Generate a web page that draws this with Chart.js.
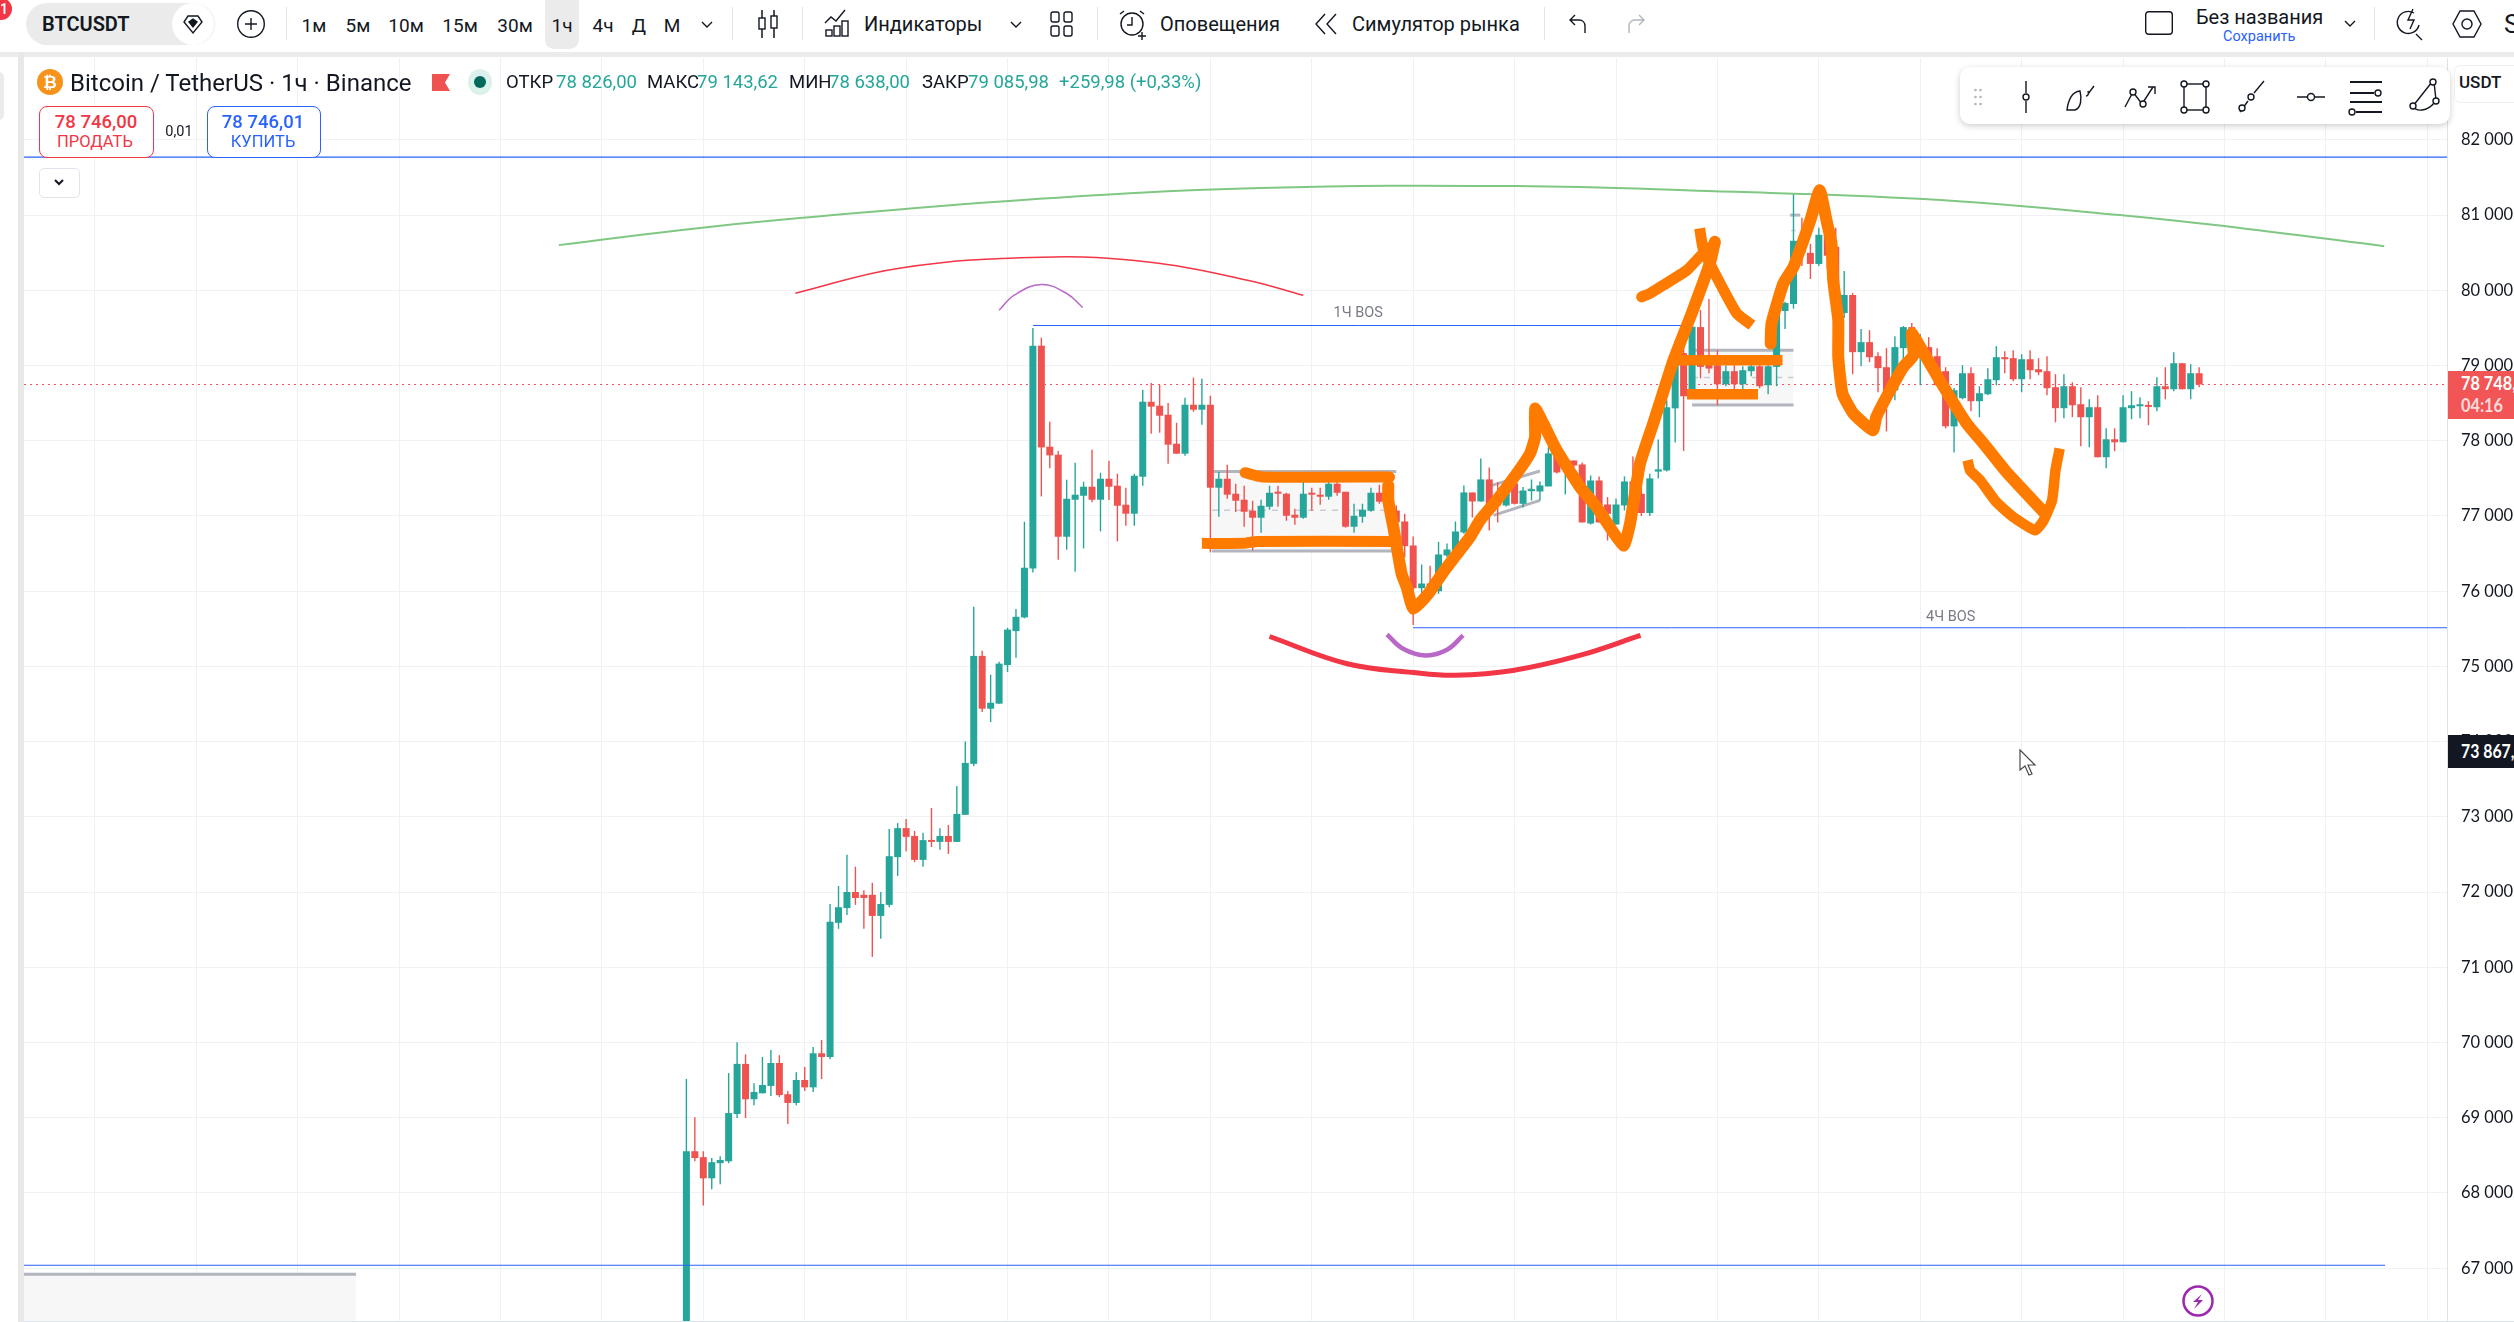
<!DOCTYPE html>
<html><head><meta charset="utf-8">
<script src="https://cdn.jsdelivr.net/npm/chart.js@4"></script>
<style>
html,body{margin:0;padding:0;background:#fff;overflow:hidden;width:2514px;height:1322px}
#wrap{position:relative;width:2514px;height:1322px;overflow:hidden;font-family:Roboto,sans-serif;color:#131722}
canvas{position:absolute;left:0;top:0}
.t{position:absolute;white-space:nowrap;line-height:1;transform:translateY(-50%)}
.c{transform:translate(-50%,-50%)}
.n{transform:translateY(-50%) scaleX(.88);transform-origin:left center}
.b{position:absolute}
svg.i{position:absolute;overflow:visible;fill:none;stroke:#131722;stroke-width:1.4}
.g{color:#26a69a}
</style></head><body>
<div id="wrap">
<canvas id="c" width="2514" height="1322"></canvas>
<!-- page frame -->
<div class="b" style="left:0;top:0;width:2514px;height:52px;background:#fff"></div>
<div class="b" style="left:0;top:52px;width:2514px;height:5px;background:#ebebeb"></div>
<div class="b" style="left:18px;top:52px;width:6px;height:1270px;background:#e8e8e8"></div>
<div class="b" style="left:24px;top:1321px;width:2490px;height:1px;background:#e0e3eb"></div>
<div class="b" style="left:-6px;top:72px;width:10px;height:48px;background:#ebebeb;border-radius:5px"></div>
<!-- toolbar -->
<div class="b" style="left:-10px;top:-2px;width:22px;height:22px;border-radius:50%;background:#f23645"></div>
<div class="t c" style="left:4px;top:9px;color:#fff;font-size:14px;font-weight:600">1</div>
<div class="b" style="left:26px;top:3px;width:189px;height:42px;border-radius:21px;background:#ebebeb"></div>
<div class="t" style="left:42px;top:24px;font-size:20px;font-weight:600">BTCUSDT</div>
<div class="b" style="left:172px;top:3px;width:42px;height:42px;border-radius:21px;background:#fff"></div>
<svg class="i" style="left:183px;top:14px" width="20" height="20" viewBox="0 0 20 20"><path d="M5 2h10l4 6-9 11L1 8z"/><path d="M10 5l4 3-4 5-4-5z" fill="#131722"/></svg>
<svg class="i" style="left:237px;top:10px" width="28" height="28" viewBox="0 0 28 28"><circle cx="14" cy="14" r="13.3"/><path d="M14 8v12M8 14h12"/></svg>
<div class="b" style="left:286px;top:7px;width:1px;height:33px;background:#e0e3eb"></div>
<div class="b" style="left:545px;top:0;width:34px;height:49px;border-radius:0 0 9px 9px;background:#ebebeb"></div>
<div class="t c" style="left:314px;top:25px;font-size:19px">1м</div>
<div class="t c" style="left:358px;top:25px;font-size:19px">5м</div>
<div class="t c" style="left:406px;top:25px;font-size:19px">10м</div>
<div class="t c" style="left:460px;top:25px;font-size:19px">15м</div>
<div class="t c" style="left:515px;top:25px;font-size:19px">30м</div>
<div class="t c" style="left:562px;top:25px;font-size:19px">1ч</div>
<div class="t c" style="left:603px;top:25px;font-size:19px">4ч</div>
<div class="t c" style="left:639px;top:25px;font-size:19px">Д</div>
<div class="t c" style="left:672px;top:25px;font-size:19px">М</div>
<svg class="i" style="left:701px;top:21px" width="12" height="8" viewBox="0 0 12 8"><path d="M1 1l5 5 5-5"/></svg>
<div class="b" style="left:732px;top:7px;width:1px;height:33px;background:#e0e3eb"></div>
<svg class="i" style="left:757px;top:9px" width="22" height="30" viewBox="0 0 22 30"><path d="M5 1v28M17 1v28" stroke-width="1.5"/><rect x="2" y="9" width="6" height="11" fill="#fff"/><rect x="14" y="7" width="6" height="12" fill="#fff"/></svg>
<div class="b" style="left:802px;top:7px;width:1px;height:33px;background:#e0e3eb"></div>
<svg class="i" style="left:824px;top:9px" width="28" height="28" viewBox="0 0 28 28"><path d="M1 14l6-6 5 4 9-11"/><rect x="2" y="21" width="6" height="6"/><rect x="10" y="17" width="6" height="10"/><rect x="18" y="12" width="6" height="15"/></svg>
<div class="t" style="left:864px;top:24px;font-size:20px">Индикаторы</div>
<svg class="i" style="left:1010px;top:21px" width="12" height="8" viewBox="0 0 12 8"><path d="M1 1l5 5 5-5"/></svg>
<svg class="i" style="left:1050px;top:11px" width="24" height="26" viewBox="0 0 24 26"><rect x="1" y="1" width="8" height="10" rx="2"/><rect x="14" y="1" width="8" height="10" rx="2"/><rect x="1" y="15" width="8" height="10" rx="2"/><rect x="14" y="15" width="8" height="10" rx="2"/></svg>
<div class="b" style="left:1097px;top:7px;width:1px;height:33px;background:#e0e3eb"></div>
<svg class="i" style="left:1118px;top:9px" width="30" height="32" viewBox="0 0 30 32"><circle cx="14" cy="15" r="11"/><path d="M14 8v8h-5M2 5l4-3M26 5l-4-3M20 27h8M24 23v8"/></svg>
<div class="t" style="left:1160px;top:24px;font-size:20px">Оповещения</div>
<svg class="i" style="left:1314px;top:13px" width="24" height="22" viewBox="0 0 24 22"><path d="M11 1L2 11l9 10M22 1l-9 10 9 10"/></svg>
<div class="t" style="left:1352px;top:24px;font-size:20px">Симулятор рынка</div>
<div class="b" style="left:1544px;top:7px;width:1px;height:33px;background:#e0e3eb"></div>
<svg class="i" style="left:1568px;top:14px" width="20" height="20" viewBox="0 0 20 20"><path d="M7 1L2 6l5 5M2 6h9c4 0 6 3 6 6v7"/></svg>
<svg class="i" style="left:1626px;top:14px;stroke:#b2b5be" width="20" height="20" viewBox="0 0 20 20"><path d="M13 1l5 5-5 5M18 6H9c-4 0-6 3-6 6v7"/></svg>
<svg class="i" style="left:2145px;top:11px" width="28" height="24" viewBox="0 0 28 24"><rect x=".7" y=".7" width="26.6" height="22.6" rx="3"/></svg>
<div class="t" style="left:2196px;top:17px;font-size:20px">Без названия</div>
<div class="t" style="left:2223px;top:37px;font-size:14.5px;color:#2962ff">Сохранить</div>
<svg class="i" style="left:2344px;top:20px" width="12" height="8" viewBox="0 0 12 8"><path d="M1 1l5 5 5-5"/></svg>
<div class="b" style="left:2374px;top:7px;width:1px;height:33px;background:#e0e3eb"></div>
<svg class="i" style="left:2396px;top:8px" width="30" height="32" viewBox="0 0 30 32"><path d="M18 5a11 11 0 1 0 5 12M20 26l6 6M17 1l-5 11h6l-4 9"/></svg>
<svg class="i" style="left:2452px;top:9px" width="30" height="30" viewBox="0 0 30 30"><path d="M8 2h14l7 13-7 13H8L1 15z"/><circle cx="15" cy="15" r="5"/></svg>
<div class="t" style="left:2504px;top:24px;font-size:26px">S</div>
<!-- legend -->
<div class="b" style="left:37px;top:69px;width:26px;height:26px;border-radius:50%;background:#f7931a"></div>
<div class="t c" style="left:50px;top:82px;color:#fff;font-size:17px;font-weight:700">₿</div>
<div class="t" style="left:70px;top:83px;font-size:24px">Bitcoin / TetherUS · 1ч · Binance</div>
<svg class="i" style="left:432px;top:74px;stroke:none" width="18" height="17" viewBox="0 0 18 17"><path d="M0 0h18l-5 8.500 5 8.500H0z" fill="#ef5350"/></svg>
<div class="b" style="left:468px;top:69px;width:24px;height:26px;border-radius:50%;background:#dcf0ec"></div>
<div class="b" style="left:474px;top:76px;width:12px;height:12px;border-radius:50%;background:#00695c"></div>
<div class="t" style="left:506px;top:82px;font-size:18.5px">ОТКР</div>
<div class="t g" style="left:556px;top:82px;font-size:18.5px">78 826,00</div>
<div class="t" style="left:647px;top:82px;font-size:18.5px">МАКС</div>
<div class="t g" style="left:697px;top:82px;font-size:18.5px">79 143,62</div>
<div class="t" style="left:789px;top:82px;font-size:18.5px">МИН</div>
<div class="t g" style="left:829px;top:82px;font-size:18.5px">78 638,00</div>
<div class="t" style="left:922px;top:82px;font-size:18.5px">ЗАКР</div>
<div class="t g" style="left:968px;top:82px;font-size:18.5px">79 085,98</div>
<div class="t g" style="left:1059px;top:82px;font-size:18.5px">+259,98 (+0,33%)</div>
<!-- trade buttons -->
<div class="b" style="left:39px;top:106px;width:113px;height:50px;border:1px solid #f23645;border-radius:8px;background:#fff"></div>
<div class="t c" style="left:96px;top:122px;font-size:18.5px;font-weight:500;color:#f23645">78 746,00</div>
<div class="t c" style="left:95px;top:142px;font-size:16.5px;color:#f23645">ПРОДАТЬ</div>
<div class="t c" style="left:179px;top:132px;font-size:14.5px">0,01</div>
<div class="b" style="left:207px;top:106px;width:112px;height:50px;border:1px solid #2962ff;border-radius:8px;background:#fff"></div>
<div class="t c" style="left:263px;top:122px;font-size:18.5px;font-weight:500;color:#2962ff">78 746,01</div>
<div class="t c" style="left:263px;top:142px;font-size:16.500px;color:#2962ff">КУПИТЬ</div>
<div class="b" style="left:39px;top:168px;width:39px;height:28px;border:1px solid #e0e3eb;border-radius:5px;background:#fff"></div>
<svg class="i" style="left:54px;top:179px;stroke-width:2" width="10" height="7" viewBox="0 0 10 7"><path d="M1 1l4 4 4-4"/></svg>
<!-- drawing toolbar -->
<div class="b" style="left:1960px;top:67px;width:490px;height:57px;border-radius:10px;background:#fff;box-shadow:0 2px 6px rgba(0,0,0,.2)"></div>
<svg class="i" style="left:1974px;top:88px;stroke:none" width="8" height="18" viewBox="0 0 8 18"><g fill="#b2b5be"><circle cx="1.500" cy="2" r="1.300"/><circle cx="6.500" cy="2" r="1.300"/><circle cx="1.500" cy="9" r="1.300"/><circle cx="6.500" cy="9" r="1.300"/><circle cx="1.500" cy="16" r="1.300"/><circle cx="6.500" cy="16" r="1.300"/></g></svg>
<svg class="i" style="left:2016px;top:80px" width="20" height="34" viewBox="0 0 20 34"><path d="M10 1v12M10 21v12"/><circle cx="10" cy="17" r="3"/></svg>
<svg class="i" style="left:2064px;top:82px" width="34" height="30" viewBox="0 0 34 30"><path d="M3 28c1-8 4-18 13-19 2 8 1 17-5 19zM24 12l6-8M22 14c2 0 3-2 2-5"/></svg>
<svg class="i" style="left:2124px;top:84px" width="34" height="26" viewBox="0 0 34 26"><path d="M1 23L9 8l9 12 11-17M24 3h7v7"/><circle cx="9" cy="8" r="3" fill="#fff"/><circle cx="19" cy="20" r="3" fill="#fff"/></svg>
<svg class="i" style="left:2180px;top:80px" width="30" height="34" viewBox="0 0 30 34"><rect x="4" y="4" width="22" height="26"/><g fill="#fff"><circle cx="4" cy="4" r="3"/><circle cx="26" cy="4" r="3"/><circle cx="4" cy="30" r="3"/><circle cx="26" cy="30" r="3"/></g></svg>
<svg class="i" style="left:2238px;top:80px" width="28" height="34" viewBox="0 0 28 34"><path d="M2 32l8-11M16 13l10-12"/><circle cx="13" cy="17" r="3"/><circle cx="4" cy="28" r="3" fill="#fff"/></svg>
<svg class="i" style="left:2296px;top:90px" width="30" height="14" viewBox="0 0 30 14"><path d="M1 7h10M19 7h10"/><circle cx="15" cy="7" r="3.500"/></svg>
<svg class="i" style="left:2348px;top:80px;stroke-width:2" width="36" height="34" viewBox="0 0 36 34"><path d="M2 2h32M2 13h24M2 22h32M8 32h26" /><circle cx="30" cy="13" r="3" fill="#fff" stroke-width="1.400"/><circle cx="4" cy="32" r="3" fill="#fff" stroke-width="1.400"/></svg>
<svg class="i" style="left:2408px;top:78px" width="32" height="36" viewBox="0 0 32 36"><path d="M24 4L5 28M26 4l2 18M5 28c3 6 14 6 22-4"/><circle cx="25" cy="4" r="3" fill="#fff"/><circle cx="28" cy="23" r="3" fill="#fff"/><circle cx="5" cy="28" r="3" fill="#fff"/></svg>
<div class="b" style="left:2454px;top:65px;width:70px;height:36px;border:1px solid #eeeff3;border-radius:6px;background:#fff"></div>
<div class="t" style="left:2459px;top:82px;font-size:17px;font-weight:500">USDT</div>
<!-- price tags -->
<div class="b" style="left:2448px;top:371px;width:66px;height:48px;background:#f25555"></div>
<div class="t n" style="left:2461px;top:383px;font:700 18.500px Lato,sans-serif;color:#fff">78 748,00</div>
<div class="t n" style="left:2461px;top:405px;font:700 18.500px Lato,sans-serif;color:#fddcdc">04:16</div>
<div class="b" style="left:2448px;top:735px;width:66px;height:33px;background:#131722"></div>
<div class="t n" style="left:2461px;top:751px;font:700 18px Lato,sans-serif;color:#fff">73 867,00</div>
<!-- badge + cursor -->
<svg class="i" style="left:2182px;top:1285px;stroke:#9c27b0;stroke-width:2.500" width="32" height="32" viewBox="0 0 32 32"><circle cx="16" cy="16" r="14.500"/><path d="M20 9l-9 8h5l-4 7 9-9h-5z" fill="#9c27b0" stroke="none"/></svg>
<svg class="i" style="left:2019px;top:749px" width="20" height="30" viewBox="0 0 20 30"><path d="M1 1v20l5-4 4 9 3-1-4-9h7z" fill="#fff" stroke="#4a4a4a" stroke-width="1.200"/></svg>
</div>
<script>
const opens=[66000,68555,68476,68195,68396,68421,69050,69716,69246,69325,69423,69728,69313,69197,69502,69404,69857,69808,71591,71787,72001,71964,71964,71683,71830,72465,72850,72746,72428,72691,72667,72746,72667,73027,73705,75140,74438,74505,75018,75470,75651,76303,79264,77921,77815,76724,77216,77269,77389,77216,77495,77402,77150,77030,77522,78519,78466,78346,77961,77828,78479,78413,78479,77376,77495,77296,77216,77070,76977,77123,77309,77296,77017,76977,77296,77283,77256,77429,77322,76857,76990,77070,77309,77250,77073,76927,76608,76040,76102,76000,76475,76541,76781,77313,77193,77486,77295,77140,77432,77162,77330,77326,77393,77805,77672,77738,77685,76900,77472,77153,76887,77140,77459,77295,77040,77590,77605,78431,79165,78685,79511,79070,79005,78751,78925,78751,78925,78991,78738,78982,79725,79818,80649,80498,80351,80738,80578,79698,79938,79178,79311,79125,78978,78671,79231,79511,79100,79245,79124,78925,78191,78566,78898,78526,78619,78805,79111,79098,78818,79084,78951,78925,78712,78433,78725,78486,78313,78446,77781,78020,77980,78433,78459,78472,78446,78725,78685,79031,78685,78898];
const highs=[69514,69007,68555,68464,68488,69594,70003,69844,69459,69808,69899,69832,69356,69606,69673,69942,70034,71842,72080,72495,72337,72025,72123,72001,72838,72917,72972,72813,72789,73119,72850,72893,73412,74002,75794,75208,74890,75061,75513,75764,76923,79499,79371,78253,77863,77482,77708,77455,77881,77575,77735,77562,77376,77562,78679,78768,78741,78502,78240,78573,78839,78825,78599,77588,77682,77429,77402,77203,77216,77402,77402,77309,77096,77469,77376,77376,77469,77469,77322,77163,77163,77376,77415,77384,77140,77029,76727,76355,76337,76656,76634,76927,77406,77313,77765,77645,77450,77406,77561,77384,77486,77459,77916,77938,77832,77738,77712,77539,77526,77251,77233,77526,77792,77400,77560,78018,78538,79325,79249,79845,79738,79885,79205,79005,79005,78991,79049,79049,79049,79849,79849,81284,80964,80618,80831,80920,80831,80258,79965,79485,79471,79178,79231,79391,79525,79565,79420,79378,79231,78978,78700,79004,78978,78725,78965,79257,79191,79204,79151,79204,79098,79124,78885,78885,78778,78712,78552,78605,78167,78167,78605,78659,78579,78526,78845,78978,79177,79031,79018,78978];
const lows=[65900,68421,67835,68048,68115,68396,68995,68995,69166,69325,69288,69276,68916,69166,69356,69343,69514,69777,71512,71695,71830,71512,71139,71378,71799,72214,72544,72398,72337,72599,72563,72508,72667,73027,73674,74395,74261,74505,74927,75116,75640,76250,77260,77633,76418,76551,76259,76569,77181,76795,77212,76662,76870,76870,77402,78094,78107,77695,77828,77801,78386,78213,76516,76990,77229,77052,76857,76542,76777,77083,77123,76937,76884,76963,77070,77150,77216,77269,76844,76777,76910,77056,77163,77029,76586,76453,75552,75920,75912,75965,76453,76541,76763,76980,77193,76807,76914,77127,77153,77113,77206,77206,77393,77565,77286,77517,76914,76887,76914,76674,76887,77073,77206,77000,77000,77500,77590,77978,77863,78685,78831,78898,78471,78725,78685,78685,78858,78698,78618,78725,79485,79756,80325,80151,80325,80280,79649,79631,78885,78991,79045,78645,78125,78538,78900,79200,78738,78950,78780,78165,77845,78552,78393,78313,78605,78738,78898,78792,78645,78818,78871,78605,78246,78300,78313,77927,77914,77781,77635,77861,77980,78286,78300,78207,78393,78552,78659,78685,78552,78712];
const closes=[68555,68464,68195,68409,68439,69062,69716,69246,69343,69435,69728,69301,69197,69502,69404,69857,69808,71604,71799,72001,71921,71921,71683,71842,72477,72850,72734,72428,72691,72667,72746,72667,73039,73717,75140,74438,74517,75037,75489,75660,76312,79264,77912,77806,76724,77229,77283,77389,77216,77495,77389,77136,77030,77535,78519,78453,78333,77948,77828,78479,78413,78479,77376,77495,77283,77203,77056,76977,77136,77309,77296,77003,76977,77296,77283,77256,77429,77309,76857,77003,77083,77309,77190,77073,76918,76599,76040,76102,76031,76488,76555,76794,77313,77193,77486,77162,77140,77339,77162,77339,77344,77406,77832,77579,77738,77672,76914,77472,76914,77029,77153,77459,77295,77040,77500,77620,78445,79165,78591,79516,78982,78960,78751,78925,78751,78938,78991,78725,78991,79827,79831,80658,80493,80351,80738,80460,79938,79938,79178,79311,79111,78965,78627,79245,79511,79338,79300,79060,78738,78193,78671,78898,78526,78632,78818,79111,79084,78818,79084,78938,78911,78699,78433,78725,78472,78313,78446,77781,78020,77980,78446,78472,78472,78450,78725,78685,79031,78685,78898,78748];

const priceTicks=[67000,68000,69000,70000,71000,72000,73000,74000,75000,76000,77000,78000,79000,80000,81000,82000];
const dayGridIndex=[-70,-58,-46,-34,-22,-10,2,14,26,38,50,62,74,86,98,110,122,134,146,158,170,182,194,206];
const axisRangeX=[-78.38,208.33];
const axisRangeY=[66284.6,83088.6];
const lastPrice=78748;
const blueTop=81771, blueBottom=67039, blueBottomEnd=201;
const bos1h=[[41,79532],[118,79532]];
const bos4h=[[86,75514],[208.33,75514]];
const greenArc=[[-15.1,80601],[-0.8,80800],[13.4,80960],[39.4,81199],[67.9,81359],[98.2,81386],[120.9,81319],[146.4,81213],[169.6,81000],[185,80813],[200.9,80587]];
const redArcTop=[[12.9,79962],[25.2,80295],[42.1,80441],[54.9,80374],[66.4,80135],[73,79935]];
const redArcLow=[[69,75398],[78.2,75035],[86,74920],[91,74883],[97.8,74946],[105.7,75146],[112.9,75412]];
const purpleArcTop=[[37,79736],[38.8,79935],[42,80078],[45,79958],[46.9,79772]];
const purpleArcLow=[[82.9,75425],[84.8,75235],[87.5,75146],[90,75221],[91.9,75412]];
const inkTopBar=[[66.1,77576],[68.2,77518],[83.2,77518]];
const inkLowBar=[[61,76636],[65.9,76636],[67.5,76662],[83.6,76662]];
const inkRise=[[83.05,77407],[83.05,77208],[83.65,76853],[84.63,76233],[85.23,76054],[86.02,75767],[87.79,75966],[89.56,76254],[92.72,76720],[93.9,76942],[95.88,77208],[98.25,77563],[99.82,77829],[100.42,78050],[100.42,78428],[101.4,78228],[102.98,77873],[105.74,77385],[107.7,77119],[110.87,76609],[111.66,76898],[112.84,77696],[114.4,78228],[116.8,79071],[118.95,79692],[121.1,80357],[121.7,80645]];
const inkHookLeft=[[113.04,79913],[114,79958],[115.6,80068],[118.4,80268],[119.9,80445],[121.7,80623]];
const inkHookRight=[[119.9,80823],[120.3,80557],[121.5,80268],[124.3,79692],[126.1,79536]];
const inkPeak=[[128.3,79293],[128.4,79559],[129.8,80091],[131,80312],[133,80933],[134.1,81332],[134.9,80933],[135.5,80623],[135.7,80135],[136.3,79603],[136.3,79114],[136.8,78627],[138.1,78361],[140.4,78139],[140.8,78316],[142,78582],[144,78981],[145.2,79137],[145,79426],[146,79247],[148.3,78804],[151.5,78228],[153.5,77962],[156.2,77584],[160.6,77052]];
const inkJ=[[151.6,77740],[151.9,77607],[153.1,77474],[155,77185],[157,76986],[159.6,76809],[160.6,76942],[161.6,77208],[162,77607],[162.5,77896]];
const inkBoxTop=[[117.2,79071],[129.7,79071]];
const inkBoxLow=[[118.4,78618],[126.8,78618]];
const rangeA=[62.2,84,77590,77075,76533];
const rangeB=[119,131,79204,78840,78476];
const rangeC=[-78.4,-39.1,66919];
const channelTop=[[95.3,77407],[101,77598]];
const channelLow=[[95.5,77008],[101,77208]];
const channelMid=[[95.4,77207],[101,77403]];
const fragHigh=[[130.6,81000],[131.8,81000]];
const fragMid=[[130.7,80795],[131.3,80795]];
const bosLabels=[["1Ч BOS",79.5,79690],["4Ч BOS",149.6,75650]];

const UP='#26a69a', DOWN='#ef5350', BLUE='#2962ff', INK='#ff7b00', GREY='#b2b5be';
const pts=a=>a.map(p=>({x:p[0],y:p[1]}));
const line=(a,color,width,order,extra)=>Object.assign({type:'line',data:pts(a),borderColor:color,borderWidth:width,pointRadius:0,pointHoverRadius:0,order:order,fill:false,tension:0,borderCapStyle:'butt',borderJoinStyle:'round'},extra||{});
const boxFill=(x0,x1,top,bottom)=>line([[x0,top],[x1,top]],'rgba(0,0,0,0)',0,60,{fill:{value:bottom},backgroundColor:'#f7f7f8'});
const ink=(a,width,cap)=>line(a,INK,width||11,1,{tension:0.15,borderCapStyle:cap||'round'});
const arc=(a,color,width)=>line(a,color,width,6,{tension:0.4});

const wickData=opens.map((o,i)=>({x:i,y:[lows[i],highs[i]]}));
const bodyData=opens.map((o,i)=>({x:i,y:[o,closes[i]]}));
const colours=opens.map((o,i)=>closes[i]>=o?UP:DOWN);

const textPlugin={id:'bosText',afterDatasetsDraw(chart){
  const {ctx,scales:{x,y}}=chart;ctx.save();ctx.font='14.5px Roboto';ctx.fillStyle='#787b86';ctx.textAlign='center';ctx.textBaseline='middle';
  bosLabels.forEach(l=>ctx.fillText(l[0],x.getPixelForValue(l[1]),y.getPixelForValue(l[2])));ctx.restore();}};
const noPad=s=>{s.paddingTop=0;s.paddingBottom=0;s.paddingLeft=0;s.paddingRight=0;};

new Chart(document.getElementById('c'),{
 type:'bar',
 plugins:[textPlugin],
 data:{datasets:[
  boxFill(rangeA[0],rangeA[1],rangeA[2],rangeA[4]),
  boxFill(rangeB[0],rangeB[1],rangeB[2],rangeB[4]),
  boxFill(rangeC[0],rangeC[1],rangeC[2],axisRangeY[0]),
  line([[rangeA[0],rangeA[2]],[rangeA[1],rangeA[2]]],GREY,3,55),
  line([[rangeA[0],rangeA[4]],[rangeA[1],rangeA[4]]],GREY,3,55),
  line([[rangeA[0],rangeA[3]],[rangeA[1],rangeA[3]]],'#c9cbd2',1.5,55,{borderDash:[6,6]}),
  line([[rangeB[0],rangeB[2]],[rangeB[1],rangeB[2]]],GREY,3,55),
  line([[rangeB[0],rangeB[4]],[rangeB[1],rangeB[4]]],GREY,3,55),
  line([[rangeB[0],rangeB[3]],[rangeB[1],rangeB[3]]],'#c9cbd2',1.5,55,{borderDash:[6,6]}),
  line([[rangeC[0],rangeC[2]],[rangeC[1],rangeC[2]]],GREY,3,55),
  line(channelTop,GREY,3,55),line(channelLow,GREY,3,55),line(channelMid,'#c9cbd2',1.5,55,{borderDash:[6,6]}),
  line(fragHigh,GREY,3,55),line(fragMid,'#d5d6dc',1.5,55),
  line([[axisRangeX[0],lastPrice],[axisRangeX[1],lastPrice]],'#f7525f',1.2,50,{borderDash:[2,4]}),
  {type:'bar',data:wickData,backgroundColor:colours,barThickness:1.4,grouped:false,order:30,inflateAmount:0},
  {type:'bar',data:bodyData,backgroundColor:colours,barThickness:7,minBarLength:2,grouped:false,order:20,inflateAmount:0},
  line([[axisRangeX[0],blueTop],[axisRangeX[1],blueTop]],BLUE,1.1,8),
  line([[axisRangeX[0],blueBottom],[blueBottomEnd,blueBottom]],BLUE,1.1,8),
  line(bos1h,BLUE,1,8),line(bos4h,BLUE,1,8),
  arc(greenArc,'#81c784',2),arc(redArcTop,'#f23645',1.5),arc(redArcLow,'#f23645',5),
  arc(purpleArcTop,'#ba68c8',1.5),arc(purpleArcLow,'#ba68c8',4.5),
  ink(inkTopBar),ink(inkLowBar,11,'butt'),ink(inkRise,12),ink(inkHookLeft,11),ink(inkHookRight,11,'butt'),ink(inkPeak,12),ink(inkJ,10.5,'butt'),
  ink(inkBoxTop,10.5,'butt'),ink(inkBoxLow,10.5,'butt')
 ]},
 options:{
  responsive:false,animation:false,devicePixelRatio:1,
  events:[],
  layout:{padding:{left:24,top:58,right:0,bottom:0}},
  plugins:{legend:{display:false},tooltip:{enabled:false}},
  scales:{
   x:{type:'linear',min:axisRangeX[0],max:axisRangeX[1],offset:false,
      grid:{color:'#f0f1f4',lineWidth:1,drawTicks:false,offset:false},
      border:{display:false},ticks:{display:false,padding:0},
      afterBuildTicks(s){s.ticks=dayGridIndex.map(v=>({value:v}));},
      afterFit(s){s.height=0;noPad(s);}},
   y:{type:'linear',position:'right',min:axisRangeY[0],max:axisRangeY[1],
      grid:{color:'#f0f1f4',lineWidth:1,drawTicks:false},
      border:{display:true,color:'#dfe1e8',width:1},
      ticks:{font:{family:'Lato',size:16.5},color:'#131722',padding:14,crossAlign:'near',autoSkip:false,includeBounds:false,
        callback(v){const s=String(v);return s.slice(0,2)+' '+s.slice(2)+',00';}},
      afterBuildTicks(s){s.ticks=priceTicks.map(v=>({value:v}));},
      afterFit(s){s.width=67;noPad(s);}}
  }
 }
});
</script>
</body></html>
